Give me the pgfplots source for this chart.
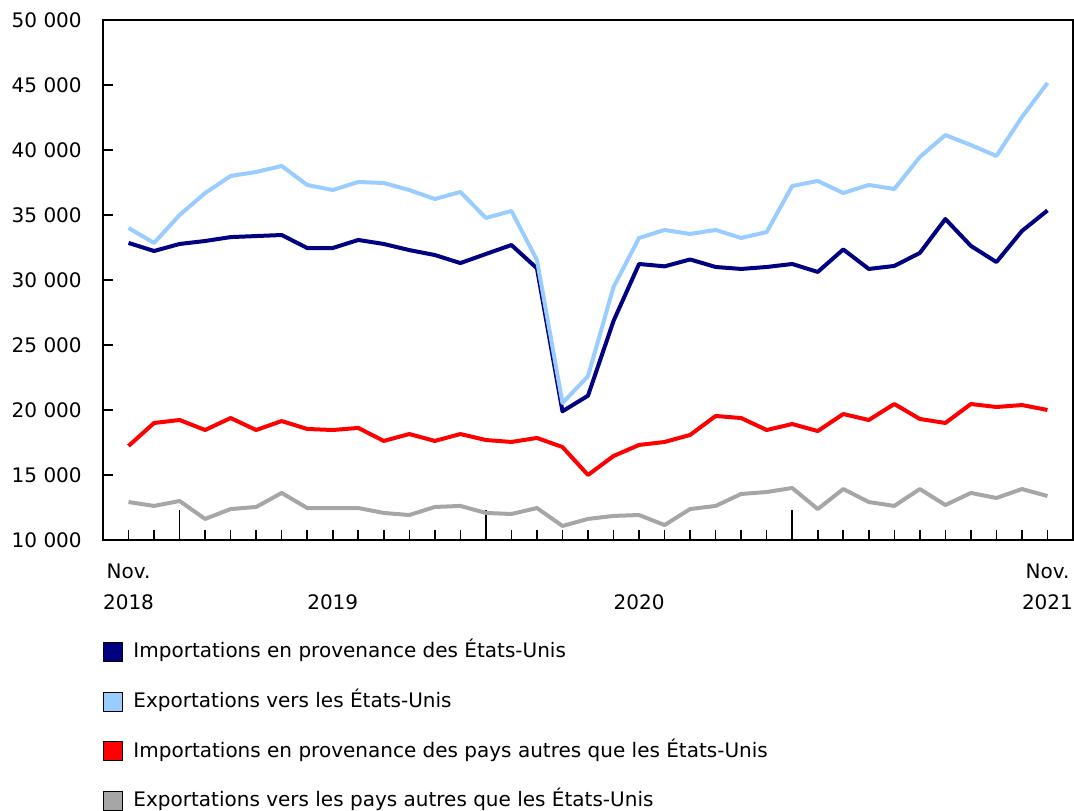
\documentclass[border=0pt]{standalone}
\usepackage{fontspec}
\setmainfont{DejaVu Sans}
\usepackage{pgfplots}
\pgfplotsset{compat=1.18}

\definecolor{usimp}{RGB}{0,0,128}
\definecolor{usexp}{RGB}{153,204,255}
\definecolor{othimp}{RGB}{255,0,0}
\definecolor{othexp}{RGB}{166,166,166}

% 1 px of the reference = 0.75pt
\pgfplotstableread{
idx usimp usexp othimp othexp
0  32850 34000 17230 12920
1  32230 32850 19000 12620
2  32770 35000 19230 13000
3  33000 36690 18460 11620
4  33300 38000 19380 12380
5  33380 38310 18460 12540
6  33460 38770 19150 13620
7  32460 37310 18540 12460
8  32460 36920 18460 12460
9  33080 37540 18620 12460
10 32770 37460 17620 12080
11 32300 36920 18150 11920
12 31920 36230 17620 12540
13 31300 36770 18150 12620
14 32000 34770 17690 12080
15 32690 35310 17540 12000
16 30900 31540 17850 12460
17 19900 20540 17150 11080
18 21100 22600 15000 11620
19 26850 29460 16460 11850
20 31230 33230 17310 11920
21 31050 33850 17540 11150
22 31580 33540 18080 12380
23 31000 33850 19540 12620
24 30850 33230 19380 13540
25 31000 33690 18460 13690
26 31230 37230 18920 14000
27 30620 37620 18380 12380
28 32350 36690 19690 13920
29 30850 37310 19230 12920
30 31080 37000 20460 12620
31 32080 39460 19310 13920
32 34690 41150 19000 12690
33 32620 40380 20460 13620
34 31380 39540 20230 13230
35 33770 42540 20380 13920
36 35350 45150 20000 13380
}\tradedata

\begin{document}
\begin{tikzpicture}[font=\fontsize{15}{23}\selectfont]
\begin{axis}[
  name=ax,
  scale only axis,
  width=727.5pt, height=390pt,
  xmin=-1, xmax=37,
  ymin=10000, ymax=50000,
  scaled y ticks=false,
  axis line style={line width=1.5pt, black},
  every tick/.style={black, line width=1.2pt},
  tick align=inside,
  xtick pos=bottom, ytick pos=left,
  ytick={10000,15000,20000,25000,30000,35000,40000,45000,50000},
  yticklabels={10 000,15 000,20 000,25 000,30 000,35 000,40 000,45 000,50 000},
  yticklabel style={anchor=east, inner sep=0pt, xshift=-15.75pt},
  major tick length=7.5pt,
  xtick={0,8,20,36},
  xticklabels={{Nov.\\2018},{\phantom{N}\\2019},{\phantom{N}\\2020},{Nov.\\2021}},
  xticklabel style={align=center, anchor=north, inner sep=0pt, yshift=-18pt},
  minor xtick={0,1,...,36},
  minor tick length=7.5pt,
  extra x ticks={2,14,26},
  extra x tick labels={},
  extra x tick style={major tick length=22.5pt},
  legend style={
    at={(0,0)}, anchor=north west, yshift=-76.35pt,
    draw=none, fill=none, inner sep=0pt,
    row sep=21.75pt, column sep=7.5pt,
    nodes={inner sep=0pt, text height=11.5pt, text depth=3.5pt},
  },
  legend cell align=left,
  legend image code/.code={
    \draw[#1, fill, draw=black, line width=0.9pt] (0pt,-6.75pt) rectangle (14.25pt,7.5pt);
  },
]
\addplot[color=usimp, line width=3pt, line join=round] table[x=idx, y=usimp] {\tradedata};
\addplot[color=usexp, line width=3pt, line join=round] table[x=idx, y=usexp] {\tradedata};
\addplot[color=othimp, line width=3pt, line join=round] table[x=idx, y=othimp] {\tradedata};
\addplot[color=othexp, line width=3pt, line join=round] table[x=idx, y=othexp] {\tradedata};
\legend{Importations en provenance des États-Unis,
        Exportations vers les États-Unis,
        Importations en provenance des pays autres que les États-Unis,
        Exportations vers les pays autres que les États-Unis}
\end{axis}
\pgfresetboundingbox
\path[use as bounding box] ([shift={(-77.25pt,-203.25pt)}]ax.south west) rectangle ([shift={(0.75pt,15pt)}]ax.north east);
\end{tikzpicture}
\end{document}
